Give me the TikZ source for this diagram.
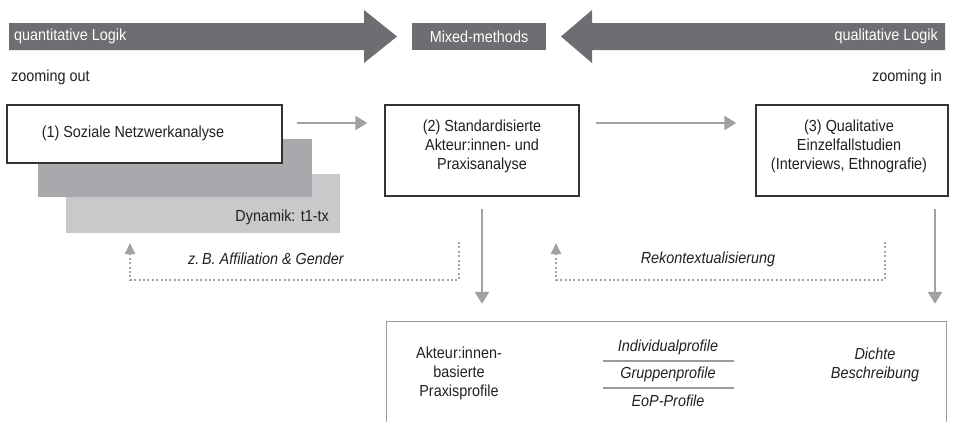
\documentclass[tikz,border=0pt]{standalone}
\usepackage{fontspec}
\setmainfont{Liberation Sans}[FakeStretch=0.9]
\usetikzlibrary{arrows.meta}
\definecolor{darkbar}{HTML}{6D6E71}
\definecolor{shadeA}{HTML}{A7A9AC}
\definecolor{shadeB}{HTML}{C8C9CB}
\definecolor{conn}{HTML}{A0A1A3}
\definecolor{boxline}{HTML}{333333}
\definecolor{resline}{HTML}{9A9B9D}
\definecolor{txt}{HTML}{231F20}
\tikzset{
  mainbox/.style={draw=boxline, line width=1.4pt, fill=white, inner sep=0pt},
  barshape/.style={fill=darkbar, draw=none},
  bartext/.style={text=white, inner sep=0pt},
  plain/.style={text=txt, inner sep=0pt, align=center},
  itl/.style={plain, font=\fontsize{16}{19}\selectfont\itshape},
  conarrow/.style={draw=conn, line width=2.6pt, -{Triangle[length=12pt,width=14pt]}},
  dotarrow/.style={draw=conn, line width=2pt, dash pattern=on 2pt off 2.4pt, -{Triangle[length=11pt,width=10pt]}},
  sepline/.style={draw=resline, line width=1.2pt},
}
\begin{document}
\begin{tikzpicture}[x=1pt,y=-1pt, font=\fontsize{16}{19}\selectfont]
\useasboundingbox (0,0) rectangle (953,421);
% top bars
\path[barshape] (9,23) -- (364,23) -- (364,10) -- (397,36.5) -- (364,63) -- (364,50) -- (9,50) -- cycle;
\path[barshape] (945,23) -- (592,23) -- (592,10) -- (561,36.5) -- (592,63) -- (592,50) -- (945,50) -- cycle;
\node[fill=darkbar, minimum width=134pt, minimum height=27pt, inner sep=0pt] (mm) at (479,36.5) {};
\node[bartext, anchor=west] (ql) at (14,36.5) {quantitative Logik};
\node[bartext] (mmt) at (479,36.5) {Mixed-methods};
\node[bartext, anchor=east] (qlr) at (938,36.5) {qualitative Logik};
\node[plain, anchor=west] (zo) at (11,77) {zooming out};
\node[plain, anchor=east] (zi) at (942,77) {zooming in};
% stacked boxes
\node[fill=shadeB, minimum width=274pt, minimum height=59pt, inner sep=0pt] (s2) at (203,203.5) {};
\node[fill=shadeA, minimum width=274pt, minimum height=58pt, inner sep=0pt] (s1) at (175,168) {};
\node[plain, anchor=east] (dyn) at (329,217) {Dynamik: t1-tx};
\node[mainbox, minimum width=275pt, minimum height=58pt] (b1) at (144.5,134) {};
\node[plain] (t1) at (133,133) {(1) Soziale Netzwerkanalyse};
\node[mainbox, minimum width=194pt, minimum height=91pt] (b2) at (482,150.5) {};
\node[plain] (t2) at (482,146.5) {(2) Standardisierte\\Akteur:innen- und\\Praxisanalyse};
\node[mainbox, minimum width=192pt, minimum height=91pt] (b3) at (852,150.5) {};
\node[plain] (t3) at (849,146.5) {(3) Qualitative\\Einzelfallstudien\\(Interviews, Ethnografie)};
% result box (open at bottom)
\node[minimum width=559pt, minimum height=110pt, inner sep=0pt] (res) at (666.5,377) {};
\draw[resline, line width=1.3pt] (res.south west) -- (res.north west) -- (res.north east) -- (res.south east);
\node[plain] (r1) at (459,373) {Akteur:innen-\\basierte\\Praxisprofile};
\node[itl] (p1) at (668,347) {Individualprofile};
\node[itl] (p2) at (668,374) {Gruppenprofile};
\node[itl] (p3) at (668,401) {EoP-Profile};
\coordinate (l1a) at (603,361); \coordinate (l1b) at (734,361);
\coordinate (l2a) at (603,388); \coordinate (l2b) at (734,388);
\draw[sepline] (l1a) -- (l1b);
\draw[sepline] (l2a) -- (l2b);
\node[itl] (db) at (875,364.5) {Dichte\\Beschreibung};
% horizontal connectors
\coordinate (hy) at (0,123);
\draw[conarrow, shorten <=14pt, shorten >=17pt] (b1.east |- hy) -- (b2.west |- hy);
\draw[conarrow, shorten <=16pt, shorten >=19pt] (b2.east |- hy) -- (b3.west |- hy);
% vertical connectors
\coordinate (vx) at (935,0);
\draw[conarrow, shorten <=12pt, shorten >=18pt] (b2.south) -- (res.north -| b2.south);
\draw[conarrow, shorten <=12pt, shorten >=18pt] (b3.south -| vx) -- (res.north -| vx);
% dotted feedback
\coordinate (d1s) at (459,242); \coordinate (d1m) at (459,280); \coordinate (d1e) at (130,243);
\draw[dotarrow] (d1s) -- (d1m) -| (d1e);
\coordinate (d2s) at (885,242); \coordinate (d2m) at (885,280); \coordinate (d2e) at (556,243);
\draw[dotarrow] (d2s) -- (d2m) -| (d2e);
\node[itl] (fb1) at (266,259) {z.\,B. Affiliation \& Gender};
\node[itl] (fb2) at (708,259) {Rekontextualisierung};
\end{tikzpicture}
\end{document}
